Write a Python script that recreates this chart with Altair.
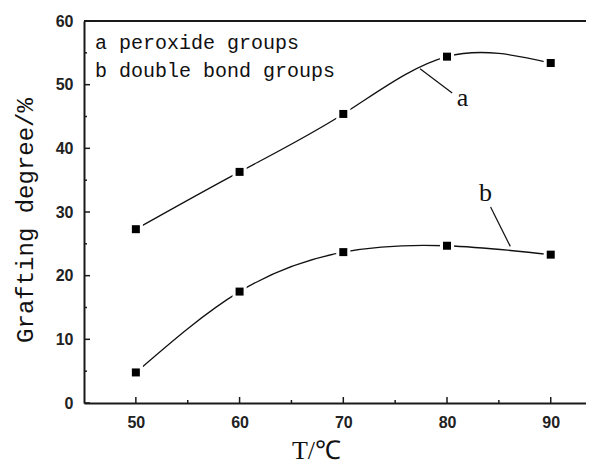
import altair as alt
import pandas as pd

# ---- data ----
temps = [50, 60, 70, 80, 90]
peroxide = [27.3, 36.3, 45.4, 54.4, 53.4]
double_bond = [4.8, 17.5, 23.7, 24.7, 23.3]

x_major = [50, 60, 70, 80, 90]
x_minor = [55, 65, 75, 85]
y_major = [0, 10, 20, 30, 40, 50, 60]
y_minor = [5, 15, 25, 35, 45, 55]

legend_lines = ["a peroxide groups", "b double bond groups"]
legend_x = [46.05, 46.05]
legend_y = [56.5, 52.1]

curve_labels = ["a", "b"]
curve_label_x = [81.5, 83.7]
curve_label_y = [47.9, 33.0]
leader_x1 = [77.4, 84.2]
leader_y1 = [52.5, 30.8]
leader_x2 = [80.5, 86.1]
leader_y2 = [48.7, 24.6]

W, H = 502, 382
XDOM = [45, 93.4]
YDOM = [0, 60]

df = pd.DataFrame({
    "T": temps * 2,
    "G": peroxide + double_bond,
    "s": ["a"] * 5 + ["b"] * 5,
})
leg = pd.DataFrame({"t": legend_lines, "x": legend_x, "y": legend_y})
lab = pd.DataFrame({"t": curve_labels, "x": curve_label_x, "y": curve_label_y})
lead = pd.DataFrame({"x": leader_x1, "y": leader_y1, "x2": leader_x2, "y2": leader_y2})
xmaj = pd.DataFrame({"v": x_major})
xmin = pd.DataFrame({"v": x_minor})
ymaj = pd.DataFrame({"v": y_major})
ymin = pd.DataFrame({"v": y_minor})

xscale = alt.Scale(domain=XDOM, nice=False, zero=False)
yscale = alt.Scale(domain=YDOM, nice=False, zero=False)

xaxis = alt.Axis(
    values=x_major, ticks=False, grid=False, format="d",
    domainColor="#1a1a1a", domainWidth=2,
    labelFont="Liberation Sans", labelFontWeight="bold", labelFontSize=16,
    labelColor="#222", labelPadding=11,
    title="T/℃", titleFont="Liberation Serif", titleFontSize=26,
    titleFontWeight="normal", titleColor="#111",
    titleX=232, titleY=55, titleAlign="center", titleBaseline="alphabetic",
)
yaxis = alt.Axis(
    values=y_major, ticks=False, grid=False, format="d",
    domainColor="#1a1a1a", domainWidth=2,
    labelFont="Liberation Sans", labelFontWeight="bold", labelFontSize=16,
    labelColor="#222", labelPadding=11,
    title="Grafting degree/%", titleFont="Liberation Mono", titleFontSize=24,
    titleFontWeight="normal", titleColor="#111",
    titleAngle=270, titleX=-59, titleY=199, titleAlign="center",
    titleBaseline="middle",
)

base = alt.Chart(df)

lines = base.mark_line(interpolate="natural", color="#111", strokeWidth=1.3).encode(
    x=alt.X("T:Q", scale=xscale, axis=xaxis),
    y=alt.Y("G:Q", scale=yscale, axis=yaxis),
    detail="s:N",
)
halo = base.mark_square(size=200, color="white", opacity=1).encode(
    x=alt.X("T:Q", scale=xscale), y=alt.Y("G:Q", scale=yscale)
)
pts = base.mark_square(size=64, color="black", opacity=1).encode(
    x=alt.X("T:Q", scale=xscale), y=alt.Y("G:Q", scale=yscale)
)

top_rule = alt.Chart(xmaj).mark_rule(color="#1a1a1a", strokeWidth=2).encode(
    x=alt.value(0), x2=alt.value(W), y=alt.value(0)
)
xmaj_t = alt.Chart(xmaj).mark_rule(color="#1a1a1a", strokeWidth=1.5).encode(
    x=alt.X("v:Q", scale=xscale), y=alt.value(H), y2=alt.value(H - 6)
)
xmin_t = alt.Chart(xmin).mark_rule(color="#1a1a1a", strokeWidth=1.5).encode(
    x=alt.X("v:Q", scale=xscale), y=alt.value(H), y2=alt.value(H - 3)
)
ymaj_t = alt.Chart(ymaj).mark_rule(color="#1a1a1a", strokeWidth=1.5).encode(
    y=alt.Y("v:Q", scale=yscale), x=alt.value(0), x2=alt.value(6)
)
ymin_t = alt.Chart(ymin).mark_rule(color="#1a1a1a", strokeWidth=1.5).encode(
    y=alt.Y("v:Q", scale=yscale), x=alt.value(0), x2=alt.value(3)
)

legend_text = alt.Chart(leg).mark_text(
    align="left", baseline="middle", font="Liberation Mono", fontSize=20, color="#111"
).encode(x=alt.X("x:Q", scale=xscale), y=alt.Y("y:Q", scale=yscale), text="t:N")

label_text = alt.Chart(lab).mark_text(
    align="center", baseline="middle", font="Liberation Serif", fontSize=26, color="#111"
).encode(x=alt.X("x:Q", scale=xscale), y=alt.Y("y:Q", scale=yscale), text="t:N")

leaders = alt.Chart(lead).mark_rule(color="#111", strokeWidth=1.2).encode(
    x=alt.X("x:Q", scale=xscale), y=alt.Y("y:Q", scale=yscale),
    x2="x2:Q", y2="y2:Q",
)

chart = alt.layer(
    lines, halo, pts, top_rule, xmaj_t, xmin_t, ymaj_t, ymin_t,
    legend_text, leaders, label_text,
).properties(
    width=W, height=H,
    autosize=alt.AutoSizeParams(type="none"),
    padding={"left": 76, "top": 13, "right": 0, "bottom": 62},
    background="white",
).configure_view(stroke=None)

chart.save("out.html", embed_options={"renderer": "svg", "actions": False})
